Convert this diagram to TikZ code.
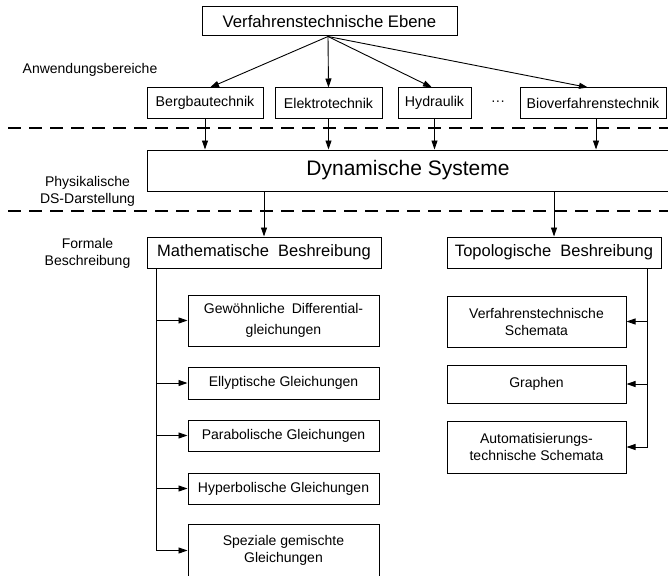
\documentclass[tikz,border=0pt]{standalone}
\usepackage{fontspec}
\setmainfont{Liberation Sans}
\usetikzlibrary{arrows.meta}

\begin{document}
\begin{tikzpicture}[x=1pt,y=-1pt,
  box/.style={draw, line width=1pt, inner sep=0pt, align=center,
    font=\fontsize{14.2}{17}\selectfont},
  rowbox/.style={box, minimum height=30pt},
  subbox/.style={box, minimum width=191pt, font=\fontsize{14}{17.5}\selectfont},
  topobox/.style={box, minimum width=179pt, font=\fontsize{14}{17}\selectfont},
  conn/.style={line width=0.9pt, -{Triangle[length=9pt,width=6pt]}},
  sep/.style={line width=1.2pt, dash pattern=on 13pt off 8pt},
  lbl/.style={align=center, inner sep=0pt, font=\fontsize{14}{17}\selectfont}]

\path[use as bounding box, clip] (0,0) rectangle (668,575);

% level separators
\draw[sep] (8,128) -- (668,128);
\draw[sep] (8,211) -- (668,211);

% side labels
\node[lbl] (anw)  at (90,70)     {Anwendungsbereiche};
\node[lbl] (phys) at (87.5,191)  {Physikalische\\DS-Darstellung};
\node[lbl] (form) at (87.5,253.5){Formale\\Beschreibung};

% process level and application fields
\node[box, minimum width=255pt, minimum height=29pt,
      font=\fontsize{16.7}{20}\selectfont] (top) at (329.5,21.5) {Verfahrenstechnische Ebene};
\node[rowbox, minimum width=116pt] (berg) at (205,103)   {Bergbautechnik};
\node[rowbox, minimum width=107pt] (elek) at (328.5,103) {Elektrotechnik};
\node[rowbox, minimum width=73pt]  (hydr) at (434.5,103) {Hydraulik};
\node[lbl] (dots) at (498,103) {···};
\node[rowbox, minimum width=146pt] (bio)  at (593,103)   {Bioverfahrenstechnik};

% dynamic systems
\node[box, minimum width=522pt, minimum height=41pt,
      font=\fontsize{21}{25}\selectfont] (dyn) at (408,170.5) {Dynamische Systeme};

% formal descriptions
\node[box, minimum width=234pt, minimum height=31pt,
      font=\fontsize{16.5}{20}\selectfont] (math) at (264,252.5) {Mathematische\hspace{0.55em}Beshreibung};
\node[box, minimum width=214pt, minimum height=31pt,
      font=\fontsize{16.5}{20}\selectfont] (topo) at (554,252.5) {Topologische\hspace{0.55em}Beshreibung};

% equation classes
\node[subbox, minimum height=51pt, font=\fontsize{14}{20.5}\selectfont] (gew) at (283.5,320.5)
  {Gewöhnliche\hspace{0.5em}Differential-\\gleichungen};
\node[subbox, minimum height=32pt] (elly) at (283.5,383)   {Ellyptische Gleichungen};
\node[subbox, minimum height=31pt] (para) at (283.5,435.5) {Parabolische Gleichungen};
\node[subbox, minimum height=31pt] (hyp)  at (283.5,488.5) {Hyperbolische Gleichungen};
\node[subbox, minimum height=53pt] (spez) at (283.5,550.5) {Speziale gemischte\\Gleichungen};

% topological forms
\node[topobox, minimum height=51pt] (vs)   at (536.5,321.5) {Verfahrenstechnische\\Schemata};
\node[topobox, minimum height=38pt] (gra)  at (536.5,384)   {Graphen};
\node[topobox, minimum height=52pt] (auto) at (536.5,447)   {Automatisierungs-\\technische Schemata};

% fan-out from the process level
\draw[conn] ([xshift=-1.5pt]top.south) -- ([xshift=5pt]berg.north);
\draw[conn] ([xshift=-1.5pt]top.south) -- (elek.north);
\draw[conn] ([xshift=-1.5pt]top.south) -- ([xshift=-2.5pt]hydr.north);
\draw[conn] ([xshift=-1.5pt]top.south) -- ([xshift=-5pt]bio.north);

% application fields into dynamic systems
\draw[conn] (berg.south) -- (berg.south |- dyn.north);
\draw[conn] (elek.south) -- (elek.south |- dyn.north);
\draw[conn] (hydr.south) -- (hydr.south |- dyn.north);
\draw[conn] ([xshift=3pt]bio.south) -- ([xshift=3pt]bio.south |- dyn.north);

% dynamic systems into the formal descriptions
\draw[conn] (math.north |- dyn.south) -- (math.north);
\draw[conn] (topo.north |- dyn.south) -- (topo.north);

% mathematical branch
\coordinate (lt) at ([xshift=10pt]math.south west);
\draw[conn] (lt) |- (spez.west);
\foreach \n in {gew,elly,para,hyp}
  \draw[conn] (lt |- \n.west) -- (\n.west);

% topological branch
\coordinate (rt) at ([xshift=-14pt]topo.south east);
\draw[conn] (rt) |- (auto.east);
\foreach \n in {vs,gra}
  \draw[conn] (rt |- \n.east) -- (\n.east);

\end{tikzpicture}
\end{document}
